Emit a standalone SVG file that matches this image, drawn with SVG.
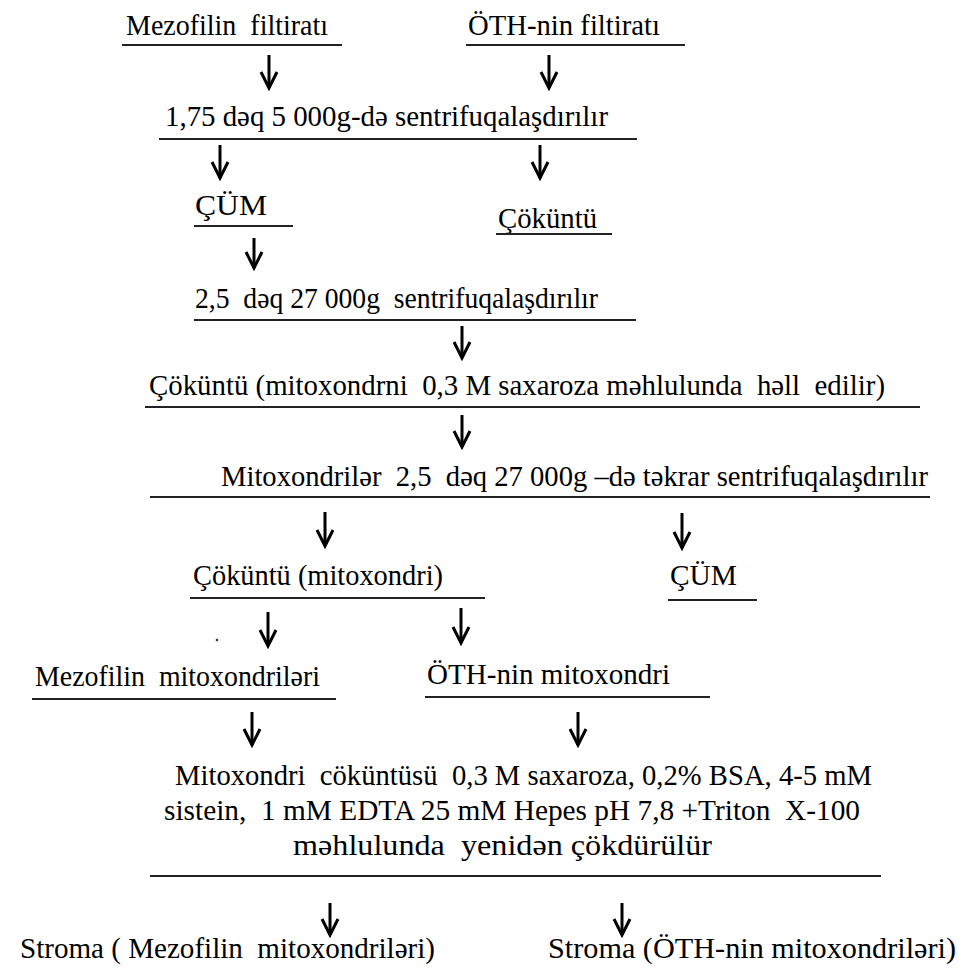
<svg xmlns="http://www.w3.org/2000/svg" width="975" height="970" viewBox="0 0 975 970" font-family="'Liberation Serif', 'Times New Roman', Times, serif">
<style>
text{font-family:'Liberation Serif','Times New Roman',Times,serif;font-size:29px;fill:#000;white-space:pre}
.u{stroke:#222;stroke-width:2;fill:none}
.a{stroke:#000;stroke-width:3;fill:none;marker-end:url(#h)}
</style>
<defs>
<marker id="h" markerUnits="userSpaceOnUse" markerWidth="24" markerHeight="24" refX="21" refY="12" orient="auto" viewBox="0 0 24 24">
<path d="M5,4 L21,12 L5,20" stroke="#000" stroke-width="3" fill="none"/>
</marker>
</defs>
<rect width="975" height="970" fill="#fff"/>
<g id="n1"><text xml:space="preserve" x="126" y="35" textLength="202" lengthAdjust="spacingAndGlyphs">Mezofilin  filtiratı</text><line class="u" x1="122" y1="45" x2="342" y2="45"/></g>
<g id="n2"><text x="468" y="35" textLength="192" lengthAdjust="spacingAndGlyphs">ÖTH-nin filtiratı</text><line class="u" x1="466" y1="45" x2="685" y2="45"/></g>
<g id="n3"><text x="165" y="126" textLength="443" lengthAdjust="spacingAndGlyphs">1,75 dəq 5 000g-də sentrifuqalaşdırılır</text><line class="u" x1="159" y1="139" x2="637" y2="139"/></g>
<g id="n4"><text x="195" y="215" textLength="72" lengthAdjust="spacingAndGlyphs">ÇÜM</text><line class="u" x1="194" y1="226" x2="293" y2="226"/></g>
<g id="n5"><text x="498" y="228" textLength="99" lengthAdjust="spacingAndGlyphs">Çöküntü</text><line class="u" x1="496" y1="234" x2="612" y2="234"/></g>
<g id="n6"><text xml:space="preserve" x="195" y="308" textLength="403" lengthAdjust="spacingAndGlyphs">2,5  dəq 27 000g  sentrifuqalaşdırılır</text><line class="u" x1="194" y1="320" x2="636" y2="320"/></g>
<g id="n7"><text xml:space="preserve" x="149" y="395" textLength="736" lengthAdjust="spacingAndGlyphs">Çöküntü (mitoxondrni  0,3 M saxaroza məhlulunda  həll  edilir)</text><line class="u" x1="145" y1="407" x2="920" y2="407"/></g>
<g id="n8"><text xml:space="preserve" x="221" y="486" textLength="707" lengthAdjust="spacingAndGlyphs">Mitoxondrilər  2,5  dəq 27 000g –də təkrar sentrifuqalaşdırılır</text><line class="u" x1="150" y1="497" x2="930" y2="497"/></g>
<g id="n9"><text x="193" y="585" textLength="250" lengthAdjust="spacingAndGlyphs">Çöküntü (mitoxondri)</text><line class="u" x1="190" y1="598" x2="485" y2="598"/></g>
<g id="n10"><text x="670" y="585" textLength="67" lengthAdjust="spacingAndGlyphs">ÇÜM</text><line class="u" x1="668" y1="600" x2="757" y2="600"/></g>
<g id="n11"><text xml:space="preserve" x="35" y="686" textLength="285" lengthAdjust="spacingAndGlyphs">Mezofilin  mitoxondriləri</text><line class="u" x1="32" y1="699" x2="336" y2="699"/></g>
<g id="n12"><text x="427" y="684" textLength="243" lengthAdjust="spacingAndGlyphs">ÖTH-nin mitoxondri</text><line class="u" x1="425" y1="697" x2="710" y2="697"/></g>
<g id="n13"><text xml:space="preserve" x="175" y="785" textLength="697" lengthAdjust="spacingAndGlyphs">Mitoxondri  cöküntüsü  0,3 M saxaroza, 0,2% BSA, 4-5 mM</text><text xml:space="preserve" x="164" y="820" textLength="696" lengthAdjust="spacingAndGlyphs">sistein,  1 mM EDTA 25 mM Hepes pH 7,8 +Triton  X-100</text><text xml:space="preserve" x="293" y="855" textLength="419" lengthAdjust="spacingAndGlyphs">məhlulunda  yenidən çökdürülür</text><line class="u" x1="150" y1="876" x2="881" y2="876"/></g>
<g id="n14"><text xml:space="preserve" x="20" y="958" textLength="415" lengthAdjust="spacingAndGlyphs">Stroma ( Mezofilin  mitoxondriləri)</text></g>
<g id="n15"><text x="548" y="958" textLength="408" lengthAdjust="spacingAndGlyphs">Stroma (ÖTH-nin mitoxondriləri)</text></g>
<circle cx="217" cy="640" r="1.3" fill="#333"/>
<g id="connectors">
<line class="a" x1="269" y1="55" x2="269" y2="88"/>
<line class="a" x1="549" y1="55" x2="549" y2="88"/>
<line class="a" x1="220" y1="145" x2="220" y2="178"/>
<line class="a" x1="540" y1="145" x2="540" y2="178"/>
<line class="a" x1="254" y1="238" x2="254" y2="268"/>
<line class="a" x1="462" y1="326" x2="462" y2="358"/>
<line class="a" x1="462" y1="415" x2="462" y2="447"/>
<line class="a" x1="325" y1="512" x2="325" y2="546"/>
<line class="a" x1="682" y1="513" x2="682" y2="548"/>
<line class="a" x1="268" y1="612" x2="268" y2="646"/>
<line class="a" x1="461" y1="608" x2="461" y2="643"/>
<line class="a" x1="252" y1="712" x2="252" y2="745"/>
<line class="a" x1="578" y1="712" x2="578" y2="745"/>
<line class="a" x1="330" y1="903" x2="330" y2="935"/>
<line class="a" x1="622" y1="903" x2="622" y2="935"/>
</g>
</svg>
